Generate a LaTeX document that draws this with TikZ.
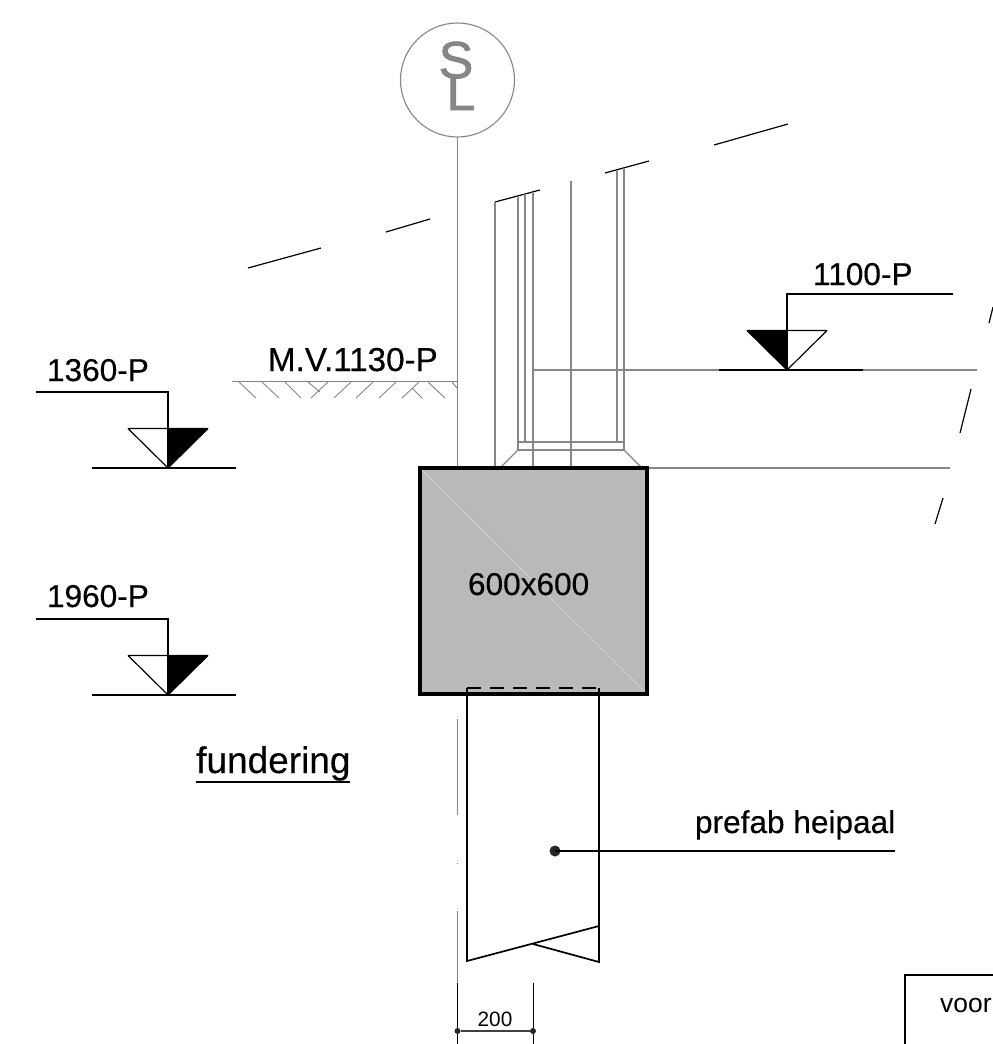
\documentclass[tikz,border=0pt]{standalone}
\usepackage{fontspec}
\setmainfont{Liberation Sans}
\newfontfamily\midfont{Liberation Sans}[FakeBold=0.35]
\newfontfamily\heavyfont{Liberation Sans}[FakeBold=1.6]
\definecolor{gl}{HTML}{868686}
\definecolor{blockfill}{HTML}{B9B9B9}
\tikzset{
  label31/.style={inner sep=0pt,outer sep=0pt,anchor=base west,font=\fontsize{31.6}{36}\midfont},
  grayline/.style={draw=gl,line width=1.1pt},
  thinblack/.style={draw=black,line width=1.2pt},
  hatch/.style={draw=gl,line width=0.9pt},
  pileline/.style={draw=black,line width=1.7pt}
}
\newcommand{\lvlmark}[4]{% apex x, apex y, leader end x, side(+1 black right, -1 black left)
  \fill[black] (#1,#2) -- (#1+#4*40,#2-39.5) -- (#1,#2-39.5) -- cycle;
  \draw[thinblack,line join=bevel] (#1,#2) -- (#1-#4*40,#2-39.5) -- (#1+#4*40,#2-39.5) -- cycle;
  \draw[thinblack] (#1,#2) -- (#1,#2-76) -- (#3,#2-76);
}
\begin{document}
\begin{tikzpicture}[x=1pt,y=-1pt]
\useasboundingbox (0,0) rectangle (993,1044);
\clip (0,0) rectangle (993,1044);
% slanted break lines
\draw[thinblack] (248,268) -- (321,248);
\draw[thinblack] (386,232) -- (430,219);
\draw[thinblack] (495,202) -- (540,190);
\draw[thinblack] (605,173) -- (649,161);
\draw[thinblack] (714,145) -- (788,124);
\draw[thinblack] (989,323) -- (993,307);
\draw[thinblack] (960,433) -- (971,389);
\draw[thinblack] (935,524) -- (943,498);
% circle and axis
\node[circle,draw=gl,line width=1.1pt,minimum size=114pt,inner sep=0pt] (axiscircle) at (457.5,80) {};
\node[inner sep=0pt,anchor=base,text=gl,font=\fontsize{52}{52}\heavyfont] (letterS) at (456,78) {S};
\node[inner sep=0pt,anchor=base,text=gl,font=\fontsize{52}{52}\heavyfont] (letterL) at (461,110) {L};
\draw[grayline] (axiscircle.south) -- (457.5,468);
% wall verticals
\foreach \x/\a/\b in {495/202/468,518/196/450,525/194/442,533/192/468,571/181/468,617/170/442,624/168/450}
  \draw[grayline] (\x,\a) -- (\x,\b);
\draw[grayline] (518,442) -- (624,442);
\draw[grayline] (518,450) -- (624,450);
\draw[grayline] (518,450) -- (500,468);
\draw[grayline] (624,450) -- (642,468);
\draw[grayline] (533,370) -- (977,370);
\draw[grayline] (647,468) -- (950,468);
% ground
\draw[grayline] (232,381.5) -- (457.5,381.5);
\foreach \a/\b/\c/\d in {239/382/256/398,262/382/279/398,285/382/301/398,308/382/320/392,328/382/311/398,351/382/334/398,373/382/356/398,396/382/379/398,419/382/402/398,412/388/422/398,428/382/445/398,452/382/457/388}
  \draw[hatch] (\a,\b) -- (\c,\d);
% level marks
\lvlmark{168}{468}{36}{1}
\draw[thinblack] (92,468) -- (236,468);
\lvlmark{168}{695}{36}{1}
\draw[thinblack] (92,695) -- (236,695);
\lvlmark{787}{370}{953}{-1}
\draw[thinblack] (719,370) -- (863,370);
% foundation block
\fill[blockfill] (420,468) rectangle (647,694);
\draw[draw=white!82!black,line width=0.8pt] (420,468) -- (647,694);
\draw[black,line width=3.6pt,line join=miter] (420,468) rectangle (647,694);
\node[label31] (blocklabel) at (468,595) {600x600};
% pile
\draw[black,line width=1.2pt,dash pattern=on 14pt off 9pt] (467,688) -- (599,688);
\draw[pileline] (467,688) -- (467,961) -- (599,926);
\draw[pileline,line join=miter] (599,688) -- (599,962) -- (533,944);
\node[circle,fill=black!85,inner sep=0pt,minimum size=11pt] (piledot) at (555,851) {};
\node[label31] (pilelabel) at (695,833) {prefab heipaal};
\draw[black,line width=1.1pt] (piledot.center) -- (895,851);
% axis below block
\draw[grayline] (457.5,719) -- (457.5,815);
\draw[grayline] (457.5,863) -- (457.5,864);
\draw[grayline] (457.5,911) -- (457.5,983);
% dimension
\draw[black,line width=1pt] (457.5,983) -- (457.5,1044);
\draw[black,line width=1pt] (533,983) -- (533,1044);
\node[circle,fill=black!85,inner sep=0pt,minimum size=6pt] (dimA) at (457.5,1031) {};
\node[circle,fill=black!85,inner sep=0pt,minimum size=6pt] (dimB) at (533,1031) {};
\draw[black!75,line width=1.3pt] (dimA) -- (dimB);
\node[inner sep=0pt,anchor=base,font=\fontsize{20.8}{24}\selectfont] (dimtext) at (495,1026) {200};
% title box
\draw[black,line width=1.1pt] (993,975) -- (905,975) -- (905,1044);
\node[inner sep=0pt,anchor=base west,font=\fontsize{26.4}{30}\selectfont] (voor) at (940,1012) {voor};
% labels
\node[label31] (t1360) at (47,381) {1360-P};
\node[label31] (t1960) at (47,607) {1960-P};
\node[label31] (t1100) at (813,285) {1100-P};
\node[label31,font=\fontsize{33.2}{36}\midfont] (tmv) at (268,371) {M.V.1130-P};
\node[inner sep=0pt,anchor=base west,font=\fontsize{37}{42}\midfont] (fund) at (196,773) {fundering};
\draw[black,line width=1.6pt] (196,782) -- (350,782);
\end{tikzpicture}
\end{document}
